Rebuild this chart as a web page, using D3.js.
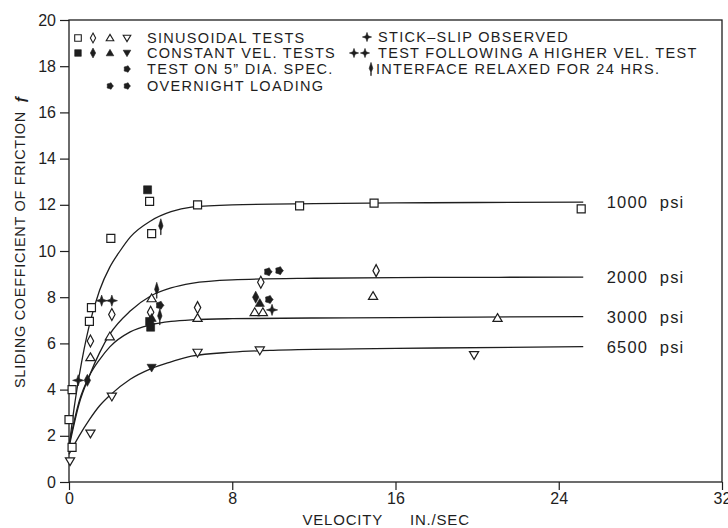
<!DOCTYPE html>
<html>
<head>
<meta charset="utf-8">
<script src="https://cdn.jsdelivr.net/npm/d3@7"></script>
<style>
body{margin:0;background:#fff;}
text{font-family:"Liberation Sans",Arial,sans-serif;fill:#1e1e1e;}
</style>
</head>
<body>
<div id="chart"></div>
<script>

// fitted curves [velocity, coefficient]
let curve1000 = [[0,1.5],[0.25,3.2],[0.5,4.6],[1,6.8],[1.5,8.3],[2,9.3],[2.5,10.0],[3,10.6],[4,11.3],[5,11.7],[6,11.9],[8,12.0],[12,12.05],[16,12.08],[20,12.1],[25.2,12.12]];
let curve2000 = [[0,1.5],[0.5,3.4],[1,4.6],[1.5,5.6],[2,6.4],[3,7.4],[4,8.05],[5,8.4],[6,8.6],[8,8.75],[12,8.82],[16,8.85],[20,8.86],[25.2,8.87]];
let curve3000 = [[0,1.6],[0.5,3.5],[1,4.6],[1.5,5.3],[2,5.85],[3,6.5],[4,6.8],[5,6.95],[6,7.02],[8,7.07],[12,7.1],[16,7.12],[20,7.14],[25.2,7.16]];
let curve6500 = [[0,1.2],[0.5,2.0],[1,2.7],[1.5,3.3],[2,3.75],[3,4.45],[4,4.9],[5,5.2],[6,5.45],[8,5.62],[10,5.7],[14,5.76],[18,5.8],[25.2,5.86]];
let curveLabels = ['1000  psi','2000  psi','3000  psi','6500  psi'];

// measured points
let sinSquare = [[0,2.7],[0.15,4.0],[0.15,1.5],[1.0,6.95],[1.1,7.55],[2.05,10.55],[4.05,10.75],[3.95,12.15],[6.3,12.0],[11.3,11.95],[14.95,12.07],[25.1,11.82]];
let sinDiamond = [[1.05,6.1],[2.1,7.25],[4.0,7.35],[6.3,7.55],[9.4,8.65],[15.05,9.15]];
let sinTriUp = [[1.05,5.4],[2.0,6.3],[4.05,7.95],[6.3,7.1],[9.1,7.35],[9.5,7.35],[14.9,8.05],[21.0,7.1]];
let sinTriDown = [[0.05,0.9],[1.05,2.1],[2.1,3.7],[6.3,5.6],[9.35,5.7],[19.85,5.5]];
let cvSquare = [[3.85,12.65],[3.95,6.95],[4.0,6.7]];
let cvDiamond = [[9.15,8.0],[0.9,4.4]];
let cvTriUp = [[4.05,7.1],[9.35,7.75]];
let cvTriDown = [[4.05,4.95]];
let diaSpec = [[4.45,7.65],[9.8,7.9]];
let overnight = [[9.75,9.1],[10.3,9.15]];
let stickSlip = [[9.95,7.45]];
let higherVel = [[0.45,4.4],[1.6,7.85],[2.1,7.85]];
let relaxed = [[4.5,11.05],[4.3,8.3],[4.45,7.15]];

let xMajor = [0,8,16,24,32];
let yMajor = [0,2,4,6,8,10,12,14,16,18,20];

const width = 728, height = 528;
const ink = '#1e1e1e';

let svg = d3.select('#chart').append('svg')
  .attr('width', width)
  .attr('height', height);

const x = d3.scaleLinear().domain([0,32]).range([69,722]);
const y = d3.scaleLinear().domain([0,20]).range([482,20]);

// custom marker shapes, size = half size in px
const shapes = {
  square: {draw(c,r){ c.rect(-r,-r,2*r,2*r); }},
  diamond: {draw(c,r){ c.moveTo(0,-1.5*r); c.lineTo(0.8*r,0); c.lineTo(0,1.5*r); c.lineTo(-0.8*r,0); c.closePath(); }},
  triUp: {draw(c,r){ c.moveTo(0,-1.1*r); c.lineTo(1.15*r,0.85*r); c.lineTo(-1.15*r,0.85*r); c.closePath(); }},
  triDown: {draw(c,r){ c.moveTo(0,1.1*r); c.lineTo(1.15*r,-0.85*r); c.lineTo(-1.15*r,-0.85*r); c.closePath(); }},
  blob: {draw(c,r){
    for(let i=0;i<10;i++){
      let a = i*Math.PI/5, rr = (i%2 ? 0.8 : 1.05)*r;
      if(i==0) c.moveTo(rr*Math.cos(a), rr*Math.sin(a)); else c.lineTo(rr*Math.cos(a), rr*Math.sin(a));
    }
    c.closePath();
  }},
  star4: {draw(c,r){
    let k = 0.35*r, R = 1.4*r;
    c.moveTo(0,-R); c.lineTo(k,-k); c.lineTo(R,0); c.lineTo(k,k);
    c.lineTo(0,R); c.lineTo(-k,k); c.lineTo(-R,0); c.lineTo(-k,-k); c.closePath();
  }},
  relaxed: {draw(c,r){
    c.moveTo(0,-2*r); c.lineTo(0.55*r,-0.2*r); c.lineTo(0,1.1*r); c.lineTo(-0.55*r,-0.2*r); c.closePath();
    c.moveTo(0.3,1.1*r); c.lineTo(0.3,2*r); c.lineTo(-0.3,2*r); c.lineTo(-0.3,1.1*r); c.closePath();
  }}
};

let series = [
  {data:sinSquare, shape:'square', fill:false},
  {data:sinDiamond, shape:'diamond', fill:false},
  {data:sinTriUp, shape:'triUp', fill:false},
  {data:sinTriDown, shape:'triDown', fill:false},
  {data:cvSquare, shape:'square', fill:true},
  {data:cvDiamond, shape:'diamond', fill:true},
  {data:cvTriUp, shape:'triUp', fill:true},
  {data:cvTriDown, shape:'triDown', fill:true},
  {data:diaSpec, shape:'blob', fill:true},
  {data:overnight, shape:'blob', fill:true},
  {data:stickSlip, shape:'star4', fill:true},
  {data:higherVel, shape:'star4', fill:true},
  {data:relaxed, shape:'relaxed', fill:true}
];

// axes
const gx = svg.append('g').attr('transform','translate(0,'+y(0)+')');
gx.call(d3.axisBottom(x).tickValues(d3.range(2,32,2).filter(d=>d%8)).tickSize(5).tickFormat(''));
gx.call(d3.axisBottom(x).tickValues(xMajor).tickSize(8).tickPadding(3));

const gy = svg.append('g').attr('transform','translate('+x(0)+',0)');
gy.call(d3.axisLeft(y).tickValues(d3.range(1,20,2)).tickSize(5).tickFormat(''));
gy.call(d3.axisLeft(y).tickValues(yMajor).tickSize(9).tickPadding(4));

svg.selectAll('.domain').remove();
svg.selectAll('.tick line').attr('stroke', ink).attr('stroke-width', 1.2);
svg.selectAll('.tick text').attr('font-size', 16).attr('fill', ink)
  .style('font-family','"Liberation Sans",Arial,sans-serif');

// frame
svg.append('rect')
  .attr('x', x(0)).attr('y', y(20))
  .attr('width', x(32)-x(0)).attr('height', y(0)-y(20))
  .attr('fill','none').attr('stroke', ink).attr('stroke-width', 1.3);

// fitted curves
const line = d3.line().x(d=>x(d[0])).y(d=>y(d[1])).curve(d3.curveMonotoneX);
let curves = [curve1000, curve2000, curve3000, curve6500];
svg.append('g').selectAll('path')
  .data(curves)
  .enter().append('path')
  .attr('d', line)
  .attr('fill','none')
  .attr('stroke', ink)
  .attr('stroke-width', 1.3);

svg.append('g').selectAll('text')
  .data(curves)
  .enter().append('text')
  .attr('x', x(26.35))
  .attr('y', d=>y(d[d.length-1][1]))
  .attr('dy','.36em')
  .attr('font-size', 16.5)
  .attr('letter-spacing', 1.2)
  .style('white-space','pre')
  .text((d,i)=>curveLabels[i]);

// markers
const sym = d3.symbol();
let mg = svg.append('g');
series.forEach(s=>{
  mg.append('g').selectAll('path')
    .data(s.data)
    .enter().append('path')
    .attr('transform', d=>'translate('+x(d[0])+','+y(d[1])+')')
    .attr('d', sym.type(shapes[s.shape]).size(4)())
    .attr('fill', s.fill ? ink : '#fff')
    .attr('stroke', ink)
    .attr('stroke-width', s.fill ? 0.6 : 1.2);
});

// legend
function legendSym(px, py, shape, fill){
  svg.append('path')
    .attr('transform','translate('+px+','+py+')')
    .attr('d', d3.symbol().type(shapes[shape]).size(3.3)())
    .attr('fill', fill ? ink : '#fff')
    .attr('stroke', ink)
    .attr('stroke-width', fill ? 0.6 : 1.1);
}
function legendText(px, py, t){
  svg.append('text').attr('x',px).attr('y',py+5)
    .attr('font-size',14.5).attr('letter-spacing',1.3)
    .text(t);
}
let open4 = ['square','diamond','triUp','triDown'];
let colX = [78,93,110,127];
open4.forEach((s,i)=>legendSym(colX[i], 38, s, false));
open4.forEach((s,i)=>legendSym(colX[i], 53, s, true));
legendSym(127, 69, 'blob', true);
legendSym(110, 86, 'blob', true);
legendSym(127, 86, 'blob', true);
legendText(147, 38, 'SINUSOIDAL TESTS');
legendText(147, 53, 'CONSTANT VEL. TESTS');
legendText(147, 69, 'TEST ON 5\u201D DIA. SPEC.');
legendText(147, 86, 'OVERNIGHT LOADING');

legendSym(367, 37, 'star4', true);
legendSym(354, 53, 'star4', true);
legendSym(365, 53, 'star4', true);
legendSym(371, 69, 'relaxed', true);
legendText(378, 37, 'STICK\u2013SLIP OBSERVED');
legendText(378, 53, 'TEST FOLLOWING A HIGHER VEL. TEST');
legendText(376, 69, 'INTERFACE RELAXED FOR 24 HRS.');

// axis titles
svg.append('text').attr('x',383).attr('y',525)
  .attr('text-anchor','end').attr('font-size',15).attr('letter-spacing',0.8)
  .text('VELOCITY');
svg.append('text').attr('x',410).attr('y',525)
  .attr('font-size',15).attr('letter-spacing',0.8)
  .text('IN./SEC');

svg.append('text')
  .attr('transform','translate(25,388) rotate(-90)')
  .attr('font-size',14.5).attr('letter-spacing',0.7)
  .text('SLIDING COEFFICIENT OF FRICTION')
  .append('tspan').attr('dx',8).attr('font-weight','bold').text('\u0192');

</script>
</body>
</html>
